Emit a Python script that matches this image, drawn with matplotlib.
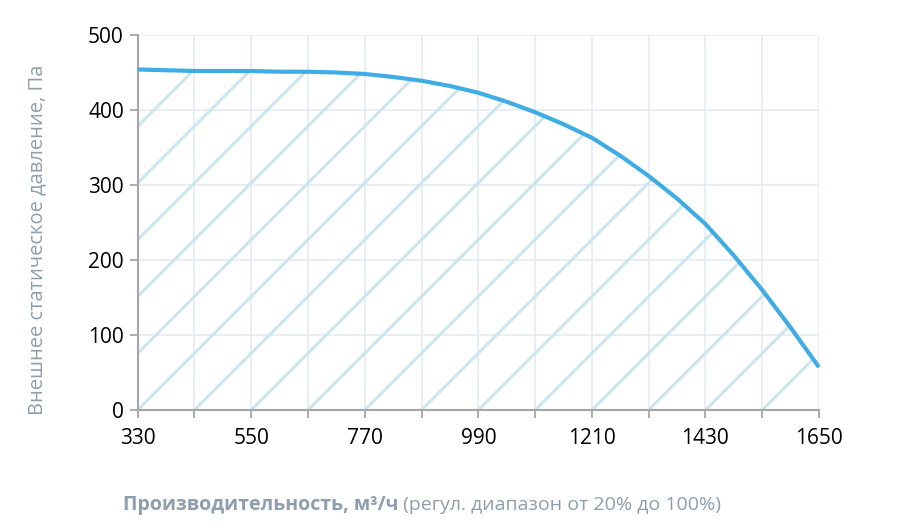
import numpy as np
import matplotlib
matplotlib.use('Agg')
import matplotlib.pyplot as plt

# air flow, m3/h  and  external static pressure, Pa
flow = [330, 385, 440, 495, 550, 605, 660, 715, 770, 825, 880, 935, 990,
        1045, 1100, 1155, 1210, 1265, 1320, 1375, 1430, 1485, 1540, 1595, 1650]
pressure = [454, 453, 452, 452, 452, 451, 451, 450, 448, 444, 439, 432, 423,
            411, 397, 381, 363, 339, 312, 282, 248, 206, 160, 110, 57]

x_ticks = [330, 440, 550, 660, 770, 880, 990, 1100, 1210, 1320, 1430, 1540, 1650]
x_labels = ['330', '', '550', '', '770', '', '990', '', '1210', '', '1430', '', '1650']
y_ticks = [0, 100, 200, 300, 400, 500]

line_col = '#3fade3'
hatch_col = '#cce5ee'
grid_col = '#e3eaf4'
spine_col = '#a6a6a6'
label_col = '#8e9eae'

plt.rcParams['font.family'] = ['Open Sans', 'DejaVu Sans']

fig = plt.figure(figsize=(9.12, 5.26), dpi=100)
ax = fig.add_axes([0.151, 0.2205, 0.747, 0.713])

ax.set_xlim(330, 1650)
ax.set_ylim(0, 500)

# grid
ax.set_xticks(x_ticks)
ax.set_xticklabels(x_labels)
ax.set_yticks(y_ticks)
ax.grid(True, color=grid_col, lw=1.1, zorder=0)
ax.set_axisbelow(True)

for s in ['top', 'right']:
    ax.spines[s].set_visible(False)
for s in ['left', 'bottom']:
    ax.spines[s].set_color(spine_col)
    ax.spines[s].set_linewidth(1.5)
ax.tick_params(axis='both', colors=spine_col, width=1.3, length=6,
               labelcolor='black', labelsize=15)
ax.tick_params(axis='x', pad=7)
ax.tick_params(axis='y', pad=4)

# area under the curve, hatched with 45 degree lines
area = ax.fill_between(flow, pressure, 0, facecolor='none', edgecolor='none')
clip = area.get_paths()[0]

bb = ax.get_window_extent()
k = (bb.width / (1650 - 330)) / (bb.height / 500.0)  # Pa per m3/h for 45 deg
step = x_ticks[1] - x_ticks[0]
for x0 in np.arange(x_ticks[0] - 8 * step, x_ticks[-1] + 1, step):
    xs = np.array([x0, x0 + 600 / k])
    ln, = ax.plot(xs, k * (xs - x0), color=hatch_col, lw=2.2, zorder=1,
                  solid_capstyle='butt')
    ln.set_clip_path(clip, ax.transData)

ax.plot(flow, pressure, color=line_col, lw=3, zorder=3, clip_on=False,
        solid_capstyle='butt')

# axis labels
fig.text(0.041, 0.545, 'Внешнее статическое давление, Па', rotation=90,
         ha='center', va='center', fontsize=14.5, color=label_col)

t1 = fig.text(0.135, 0.03, 'Производительность, м³/ч', fontsize=14,
              weight='bold', color=label_col, ha='left', va='baseline')
fig.canvas.draw()
ext = t1.get_window_extent()
fig.text(ext.x1 / fig.bbox.width, 0.03, ' (регул. диапазон от 20% до 100%)',
         fontsize=14, color=label_col, ha='left', va='baseline')

plt.savefig('out.png', dpi=100)
